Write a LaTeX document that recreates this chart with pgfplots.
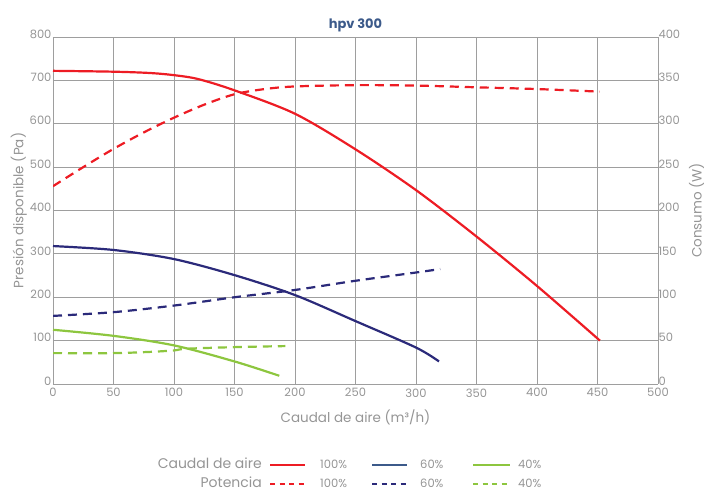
\documentclass[border=0pt]{standalone}
\usepackage{pgfplots}
\pgfplotsset{compat=1.18}
\usepackage{fontspec}
\setmainfont{Poppins}
\definecolor{cred}{HTML}{ED1C24}
\definecolor{cnavy}{HTML}{2B2A7A}
\definecolor{cblue}{HTML}{3C5A8A}
\definecolor{cgreen}{HTML}{8DC63F}
\definecolor{cgrid}{HTML}{9E9E9E}
\definecolor{ctxt}{HTML}{959595}
\begin{document}
\begin{tikzpicture}[x=1pt,y=1pt]
\path[use as bounding box] (0,0) rectangle (705,492);
\pgfplotsset{
  base/.style={
    at={(53pt,108pt)}, anchor=south west,
    scale only axis, width=605pt, height=347pt,
    xmin=0, xmax=500,
    /pgf/number format/assume math mode=true,
    ticklabel style={font=\fontsize{11.5}{13}\selectfont, text=ctxt},
    axis line style={cgrid, line width=0.9pt},
    major tick length=0pt,
  },
}
\begin{axis}[base,
  ymin=0, ymax=800,
  xtick={0,50,...,500}, ytick={0,100,...,800},
  grid=major, grid style={cgrid, line width=0.8pt},
  axis y line*=left, axis x line*=bottom,
  xlabel={Caudal de aire (m³/h)},
  ylabel={Presión disponible (Pa)},
  label style={font=\fontsize{13.5}{15}\selectfont, text=ctxt},
  xlabel style={yshift=-6pt},
  ylabel style={yshift=-4pt},
  title={\bfseries hpv 300},
  title style={font=\fontsize{13}{15}\selectfont, text=cblue, yshift=-4pt},
  xticklabel style={yshift=-1pt},
  yticklabel style={xshift=2pt, yshift=3pt},
]
\addplot[cred, line width=2.2pt, smooth, tension=0.5] coordinates {
 (0,722) (50,720) (80,717) (100,712) (120,703) (150,677) (200,623) (250,541) (300,447) (350,340) (400,226) (452,100)};
\addplot[cnavy, line width=2.2pt, smooth, tension=0.5] coordinates {
 (0,318) (50,309) (100,288) (150,251) (200,205) (250,145) (300,84) (319,52)};
\addplot[cgreen, line width=2.2pt, smooth, tension=0.5] coordinates {
 (0,125) (50,111) (100,89) (150,52) (187,19)};
\end{axis}
\begin{axis}[base,
  ymin=0, ymax=400,
  ytick={0,50,...,400},
  axis y line*=right, axis x line=none,
  ylabel={Consumo (W)},
  ylabel style={font=\fontsize{13.5}{15}\selectfont, text=ctxt, yshift=-2pt},
  yticklabel style={xshift=-3pt, yshift=3pt},
]
\addplot[cred, line width=2.2pt, dash pattern=on 9pt off 6pt, smooth, tension=0.5] coordinates {
 (0,228) (25,250) (50,271) (75,290) (100,307) (125,322) (150,334) (175,340) (200,343) (250,344.5) (300,344) (350,342) (400,340) (452,337)};
\addplot[cnavy, line width=2.2pt, dash pattern=on 9pt off 6pt, smooth, tension=0.5] coordinates {
 (0,78.5) (50,82.8) (100,90.4) (150,100) (200,108.4) (250,119) (300,128.5) (320,132.5)};
\addplot[cgreen, line width=2.2pt, dash pattern=on 9pt off 6pt, smooth, tension=0.5] coordinates {
 (0,35.6) (50,35.6) (80,37) (100,38.7) (110,40.6) (150,42.5) (192,43.7)};
\end{axis}
% legend
\begin{scope}[every node/.style={text=ctxt, inner sep=0pt}]
\node[anchor=east, font=\fontsize{14}{16}\selectfont] at (262,28.5) {Caudal de aire};
\node[anchor=east, font=\fontsize{14}{16}\selectfont] at (262,10) {Potencia};
\draw[cred, line width=2pt] (270,27) -- (305,27);
\draw[cred, line width=2pt, dash pattern=on 5pt off 4.5pt] (270,8) -- (305,8);
\draw[cblue, line width=2pt] (372,27) -- (407,27);
\draw[cnavy, line width=2pt, dash pattern=on 5pt off 4.5pt] (372,8) -- (407,8);
\draw[cgreen, line width=2pt] (473,27) -- (510,27);
\draw[cgreen, line width=2pt, dash pattern=on 5pt off 4.5pt] (473,8) -- (510,8);
\foreach \y in {27.5,9}{
 \node[anchor=west, font=\fontsize{11.5}{13}\selectfont] at (320,\y) {100\%};
 \node[anchor=west, font=\fontsize{11.5}{13}\selectfont] at (420,\y) {60\%};
 \node[anchor=west, font=\fontsize{11.5}{13}\selectfont] at (518,\y) {40\%};
}
\end{scope}
\end{tikzpicture}
\end{document}
